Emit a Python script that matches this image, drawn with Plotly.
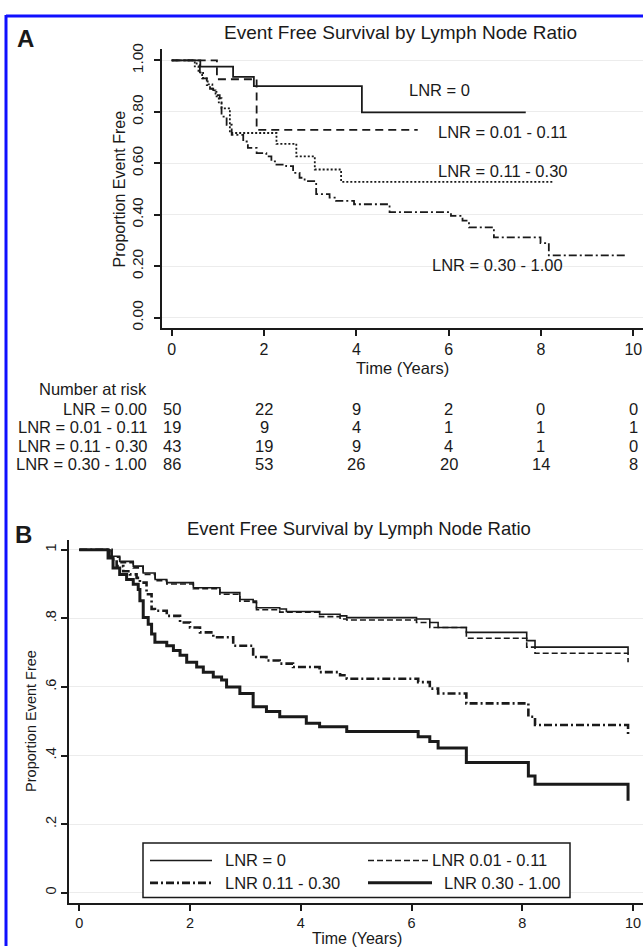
import plotly.graph_objects as go

# ---------------- Panel A data (Kaplan-Meier step curves) ----------------
a_lnr0_t = [0, 0.62, 1.33, 1.78, 4.12, 7.67]
a_lnr0_s = [1.0, 0.976, 0.936, 0.90, 0.798, 0.798]

a_lnr1_t = [0, 0.98, 1.84, 5.33]
a_lnr1_s = [1.0, 0.927, 0.73, 0.73]

a_lnr2_t = [0, 0.50, 0.58, 0.66, 0.78, 0.88, 0.95, 1.02, 1.08, 1.26, 2.27, 2.70, 3.10, 3.67, 8.28]
a_lnr2_s = [1.0, 0.977, 0.953, 0.93, 0.907, 0.884, 0.86, 0.837, 0.814, 0.718, 0.676, 0.627, 0.576, 0.528, 0.528]

a_lnr3_t = [0, 0.54, 0.61, 0.68, 0.76, 0.83, 0.90, 0.97, 1.04, 1.08, 1.19, 1.30, 1.55, 1.65, 1.84, 2.05,
            2.16, 2.27, 2.48, 2.63, 2.77, 2.88, 3.13, 3.42, 3.56, 3.95, 4.72, 6.05, 6.30, 6.44, 6.98,
            7.99, 8.17, 9.86]
a_lnr3_s = [1.0, 0.988, 0.955, 0.93, 0.904, 0.89, 0.878, 0.865, 0.853, 0.782, 0.75, 0.711, 0.685, 0.66, 0.64, 0.627,
            0.608, 0.595, 0.589, 0.563, 0.544, 0.531, 0.48, 0.467, 0.454, 0.441, 0.41, 0.396, 0.377, 0.351, 0.312,
            0.29, 0.242, 0.242]

a_labels = ["LNR = 0", "LNR = 0.01 - 0.11", "LNR = 0.11 - 0.30", "LNR = 0.30 - 1.00"]

# Number at risk table
risk_times = [0, 2, 4, 6, 8, 10]
risk_labels = ["LNR = 0.00", "LNR = 0.01 - 0.11", "LNR = 0.11 - 0.30", "LNR = 0.30 - 1.00"]
risk_lnr0 = [50, 22, 9, 2, 0, 0]
risk_lnr1 = [19, 9, 4, 1, 1, 1]
risk_lnr2 = [43, 19, 9, 4, 1, 0]
risk_lnr3 = [86, 53, 26, 20, 14, 8]

# ---------------- Panel B data ----------------
b_lnr0_t = [0, 0.40, 0.55, 0.73, 0.975, 1.155, 1.37, 1.58, 2.06, 2.54, 2.90, 3.14, 3.20, 3.62, 3.74, 4.34,
            4.71, 4.83, 6.09, 6.33, 6.48, 6.99, 8.08, 8.23, 9.91, 9.91]
b_lnr0_s = [1.0, 1.0, 0.981, 0.966, 0.952, 0.932, 0.913, 0.904, 0.889, 0.875, 0.855, 0.846, 0.831, 0.827, 0.82, 0.812,
            0.807, 0.802, 0.798, 0.788, 0.773, 0.759, 0.735, 0.716, 0.716, 0.697]

b_lnr1_t = [0, 0.40, 0.55, 0.73, 0.975, 1.155, 1.37, 1.58, 2.06, 2.54, 2.90, 3.20, 3.62, 4.34, 4.71, 4.83,
            6.09, 6.33, 6.99, 8.08, 8.23, 9.91, 9.91]
b_lnr1_s = [1.0, 1.0, 0.978, 0.962, 0.947, 0.928, 0.91, 0.90, 0.886, 0.87, 0.85, 0.825, 0.818, 0.805, 0.798, 0.795,
            0.788, 0.773, 0.742, 0.716, 0.698, 0.698, 0.672]

b_lnr2_t = [0, 0.40, 0.585, 0.675, 0.795, 0.915, 1.035, 1.095, 1.215, 1.306, 1.366, 1.58, 1.82, 2.0, 2.18, 2.42,
            2.78, 3.14, 3.38, 3.62, 3.86, 4.34, 4.71, 4.83, 6.12, 6.33, 6.48, 6.99, 8.11, 8.23, 9.91, 9.91]
b_lnr2_s = [1.0, 1.0, 0.971, 0.952, 0.937, 0.928, 0.918, 0.904, 0.87, 0.827, 0.822, 0.807, 0.788, 0.773, 0.759, 0.745,
            0.72, 0.687, 0.677, 0.668, 0.658, 0.643, 0.634, 0.624, 0.614, 0.595, 0.581, 0.552, 0.513, 0.489, 0.489, 0.455]

b_lnr3_t = [0, 0.40, 0.52, 0.61, 0.73, 0.855, 0.975, 1.065, 1.095, 1.155, 1.245, 1.306, 1.366, 1.58, 1.70, 1.82,
            1.94, 2.12, 2.24, 2.42, 2.57, 2.66, 2.90, 3.14, 3.38, 3.62, 4.10, 4.34, 4.83, 6.12, 6.33, 6.48,
            6.99, 8.11, 8.23, 9.91, 9.91]
b_lnr3_s = [1.0, 1.0, 0.976, 0.947, 0.928, 0.913, 0.899, 0.884, 0.851, 0.802, 0.783, 0.754, 0.73, 0.72, 0.706, 0.692,
            0.672, 0.658, 0.643, 0.629, 0.62, 0.60, 0.581, 0.542, 0.528, 0.513, 0.494, 0.484, 0.47, 0.455, 0.441, 0.422,
            0.38, 0.34, 0.316, 0.316, 0.268]

b_legend = ["LNR = 0", "LNR 0.01 - 0.11", "LNR 0.11 - 0.30", "LNR 0.30 - 1.00"]

x_ticks = [0, 2, 4, 6, 8, 10]
a_yticks = [0, 0.2, 0.4, 0.6, 0.8, 1.0]
a_yticktext = ["0.00", "0.20", "0.40", "0.60", "0.80", "1.00"]
b_yticktext = ["0", ".2", ".4", ".6", ".8", "1"]

title_text = "Event Free Survival by Lymph Node Ratio"

# ---------------- figure ----------------
W, H = 643, 948
FONT = "Liberation Sans, Arial, Helvetica, sans-serif"
INK = "#1a1a1a"


def px(x):
    return x / W


def py(y):
    return 1 - y / H


fig = go.Figure()

a_styles = [
    dict(width=1.8, dash="solid"),
    dict(width=1.8, dash="8px,5px"),
    dict(width=1.8, dash="2px,2px"),
    dict(width=1.8, dash="8px,3px,2px,3px"),
]
for (t, s), st in zip([(a_lnr0_t, a_lnr0_s), (a_lnr1_t, a_lnr1_s), (a_lnr2_t, a_lnr2_s), (a_lnr3_t, a_lnr3_s)], a_styles):
    fig.add_trace(go.Scatter(x=t, y=s, mode="lines", line=dict(color=INK, shape="hv", **st),
                             xaxis="x", yaxis="y", showlegend=False, hoverinfo="skip"))

b_styles = [
    dict(width=1.6, dash="solid"),
    dict(width=1.6, dash="6px,3px"),
    dict(width=2.6, dash="8px,3px,2px,3px"),
    dict(width=3.0, dash="solid"),
]
for (t, s), st in zip([(b_lnr0_t, b_lnr0_s), (b_lnr1_t, b_lnr1_s), (b_lnr2_t, b_lnr2_s), (b_lnr3_t, b_lnr3_s)], b_styles):
    fig.add_trace(go.Scatter(x=t, y=s, mode="lines", line=dict(color=INK, shape="hv", **st),
                             xaxis="x2", yaxis="y2", showlegend=False, hoverinfo="skip"))

axis_common = dict(showline=True, linecolor=INK, ticks="outside", tickcolor=INK, zeroline=False,
                   fixedrange=True)

fig.update_layout(
    width=W, height=H,
    margin=dict(l=0, r=0, t=0, b=0),
    paper_bgcolor="white", plot_bgcolor="white",
    font=dict(family=FONT, color=INK),
    showlegend=False,
    xaxis=dict(domain=[px(162), 1], range=[-0.21, 10.21], tickvals=x_ticks, anchor="y",
               linewidth=2, ticklen=6, tickwidth=1.5, showgrid=False,
               tickfont=dict(size=16), **axis_common),
    yaxis=dict(domain=[py(325), py(43)], range=[-0.0413, 1.046], tickvals=a_yticks, ticktext=a_yticktext,
               anchor="x", linewidth=2, ticklen=6, tickwidth=1.5, tickangle=-90, ticklabelstandoff=5,
               showgrid=True, gridcolor="#ececec", gridwidth=1,
               tickfont=dict(size=15.5), **axis_common),
    xaxis2=dict(domain=[px(69.3), 1], range=[-0.18, 10.18], tickvals=x_ticks, anchor="y2",
                linewidth=1.8, ticklen=6, tickwidth=1.5, showgrid=False,
                tickfont=dict(size=14.5), **axis_common),
    yaxis2=dict(domain=[py(904.3), py(538.3)], range=[-0.029, 1.029], tickvals=a_yticks, ticktext=b_yticktext,
                anchor="x2", linewidth=1.8, ticklen=6, tickwidth=1.5, tickangle=-90,
                showgrid=True, gridcolor="#ececec", gridwidth=1,
                tickfont=dict(size=14.5), **axis_common),
)

ann = []


def note(text, x, y, xref="paper", yref="paper", xanchor="center", yanchor="middle", size=16.5, **kw):
    ann.append(dict(text=text, x=x, y=y, xref=xref, yref=yref, xanchor=xanchor, yanchor=yanchor,
                    showarrow=False, font=dict(size=size, family=kw.pop("family", FONT), color=INK), **kw))


# panel letters and titles
note("<b>A</b>", px(25), py(33), size=24)
note("<b>B</b>", px(23), py(533), size=24)
note(title_text, px(400), py(27), size=19)
note(title_text, px(359), py(527), size=18.5)
# axis titles
note("Proportion Event Free", px(119), py(185), size=16, textangle=-90)
note("Time (Years)", px(402.5), py(365), size=16.5)
note("Proportion Event Free", px(31), py(721), size=14.5, textangle=-90)
note("Time (Years)", px(357), py(940), size=16)

# panel A curve labels
for lab, (lx, ly) in zip(a_labels, [(5.80, 0.885), (7.16, 0.721), (7.16, 0.572), (7.05, 0.203)]):
    note(lab, lx, ly, xref="x", yref="y")

# number at risk table
note("Number at risk", px(148.5), py(386), xanchor="right")
row_y = [406, 425, 443.5, 462]
for lab, vals, ry in zip(risk_labels, [risk_lnr0, risk_lnr1, risk_lnr2, risk_lnr3], row_y):
    note(lab, px(148.5), py(ry), xanchor="right")
    for t, v in zip(risk_times, vals):
        note(str(v), t, py(ry), xref="x")

# panel B legend (manual box)
shapes = []
shapes.append(dict(type="rect", xref="paper", yref="paper", x0=px(143), x1=px(570), y0=py(899), y1=py(844),
                   line=dict(color=INK, width=1.5), fillcolor="white", layer="above"))
leg_samples = [
    (150, 212, 861.7, b_styles[0]),
    (368, 430, 861.7, b_styles[1]),
    (150, 212, 884.3, b_styles[2]),
    (368, 432, 884.3, b_styles[3]),
]
for x0, x1, yy, st in leg_samples:
    shapes.append(dict(type="line", xref="paper", yref="paper", x0=px(x0), x1=px(x1), y0=py(yy), y1=py(yy),
                       line=dict(color=INK, width=st["width"], dash=st["dash"]), layer="above"))
for lab, (lx, ly) in zip(b_legend, [(222.7, 861.7), (430.5, 861.7), (222.7, 884.3), (441.7, 884.3)]):
    note(lab, px(lx), py(ly), xanchor="left")

# blue frame lines (left and top)
shapes.append(dict(type="line", xref="paper", yref="paper", x0=px(6), x1=px(6), y0=0, y1=py(9),
                   line=dict(color="#1010ff", width=3), layer="above"))
shapes.append(dict(type="line", xref="paper", yref="paper", x0=px(6), x1=1, y0=py(10), y1=py(10),
                   line=dict(color="#1010ff", width=3), layer="above"))

fig.update_layout(annotations=ann, shapes=shapes)

fig.write_html(
    "out.html",
    config={"displayModeBar": False},
    post_script="document.body.style.margin='0';document.body.style.overflow='hidden';",
)
